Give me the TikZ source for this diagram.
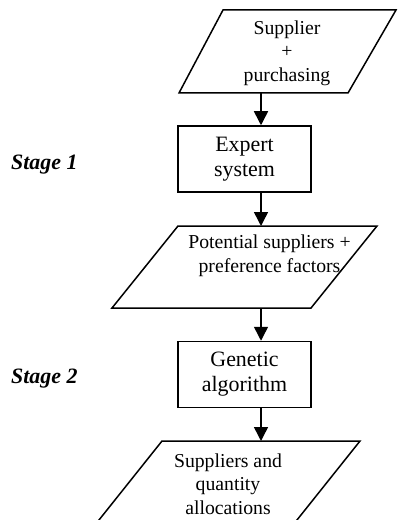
\documentclass[tikz,border=0pt]{standalone}
\usepackage{fontspec}
\setmainfont{Liberation Serif}
\usetikzlibrary{arrows.meta}
\tikzset{
  shapeline/.style={line width=1.5bp, line join=miter},
  arr/.style={line width=1.5bp, -{Triangle[length=14bp,width=14bp]}},
  boxnode/.style={draw, line width=1.5bp, minimum width=133bp, minimum height=66bp, inner sep=0, align=center, font={\fontsize{22}{25}\selectfont}},
  iotext/.style={inner sep=0, align=center, font={\fontsize{19.8}{23.8}\selectfont}},
  stagetext/.style={inner sep=0, anchor=west, font={\fontsize{22}{25}\selectfont\bfseries\itshape}}
}
\begin{document}
\begin{tikzpicture}[x=1bp,y=-1bp]
\clip (0,0) rectangle (397,520);
\fill[white] (0,0) rectangle (397,520);
% arrow column
\coordinate (col) at (261,0);
% parallelogram 1
\draw[shapeline] (223,10) -- (396,10) -- (348,93) -- (179,93) -- cycle;
\coordinate (p1b) at (261,93);
\node[iotext] (p1) at (287,53) {Supplier\\+\\purchasing};
% box 1
\node[boxnode] (b1) at (244.5,159) {Expert\\system};
% parallelogram 2
\draw[shapeline] (178,226) -- (377,226) -- (311,308) -- (112,308) -- cycle;
\coordinate (p2t) at (261,226);
\coordinate (p2b) at (261,308);
\node[iotext] (p2) at (269.5,256) {Potential suppliers +\\preference factors};
% box 2
\node[boxnode] (b2) at (244.5,374.5) {Genetic\\algorithm};
% parallelogram 3
\draw[shapeline] (162,441) -- (360,441) -- (289,530) -- (91,530) -- cycle;
\coordinate (p3t) at (261,441);
\node[iotext] (p3) at (228,484) {Suppliers and\\quantity\\allocations};
% stage labels
\node[stagetext] (s1) at (11,165) {Stage 1};
\node[stagetext] (s2) at (11,379) {Stage 2};
% connectors
\draw[arr] (p1b) -- (b1.north -| col);
\draw[arr] (b1.south -| col) -- (p2t);
\draw[arr] (p2b) -- (b2.north -| col);
\draw[arr] (b2.south -| col) -- (p3t);
\end{tikzpicture}
\end{document}
